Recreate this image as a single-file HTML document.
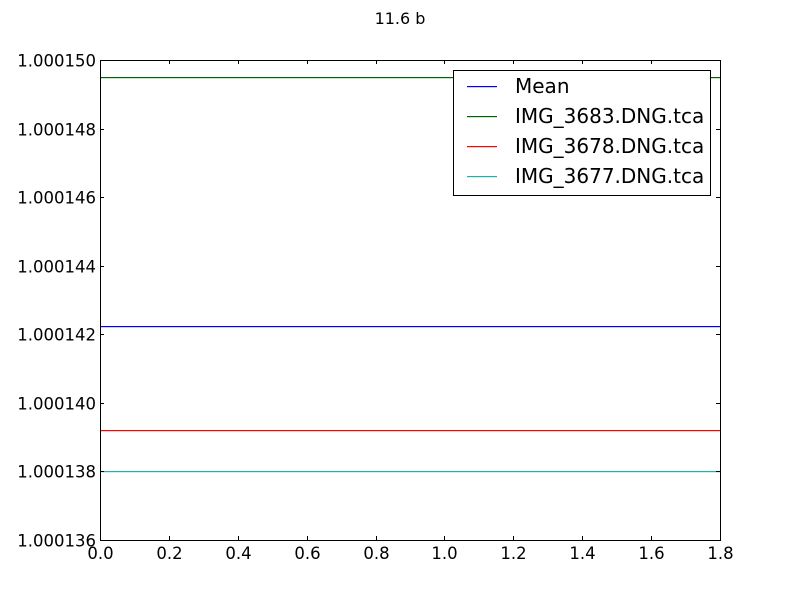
<!DOCTYPE html>
<html><head><meta charset="utf-8"><style>
body{margin:0;background:#fff;}
svg{display:block;font-family:"DejaVu Sans","Liberation Sans",sans-serif;}
</style></head><body>
<svg id="chart" width="800" height="600" xmlns="http://www.w3.org/2000/svg">
<rect width="800" height="600" fill="#fff"/>
<text x="400" y="24" font-size="16" text-anchor="middle">11.6 b</text>
<g id="marks"></g>
<g id="axes" shape-rendering="crispEdges"></g>
<rect x="100.5" y="60.5" width="620" height="480" fill="none" stroke="#000" stroke-width="1" shape-rendering="crispEdges"/>
<g id="legend"></g>
</svg>
<script>
const seriesNames = ["Mean","IMG_3683.DNG.tca","IMG_3678.DNG.tca","IMG_3677.DNG.tca"];
const seriesValues = [1.00014224, 1.0001495, 1.0001392, 1.000138];
const seriesColors = ["#0000ff","#006400","#ff0000","#20b2aa"];
const xTicks = [0,0.2,0.4,0.6,0.8,1.0,1.2,1.4,1.6,1.8];
const yTicks = [1.000136,1.000138,1.00014,1.000142,1.000144,1.000146,1.000148,1.00015];
const X0=100,X1=720,Y0=540,Y1=60;
const xMin=0,xMax=1.8,yMin=1.000136,yMax=1.00015;
const sx=v=>X0+(v-xMin)/(xMax-xMin)*(X1-X0);
const sy=v=>Y0-(v-yMin)/(yMax-yMin)*(Y0-Y1);
const NS="http://www.w3.org/2000/svg";
function mk(tag,attrs,parent){const e=document.createElementNS(NS,tag);for(const k in attrs)e.setAttribute(k,attrs[k]);parent.appendChild(e);return e;}
const marks=document.getElementById('marks'),axes=document.getElementById('axes'),legend=document.getElementById('legend');
seriesValues.forEach((v,i)=>{
  const y=Math.round(sy(v));
  const l=mk('rect',{x:sx(xMin),width:sx(xMax)-sx(xMin),y:y,height:1.2,fill:seriesColors[i]},marks);
  
  
});
xTicks.forEach(t=>{
  const x=Math.round(sx(t))+0.5;
  mk('line',{x1:x,x2:x,y1:Y0,y2:Y0-4,stroke:'#000'},axes);
  mk('line',{x1:x,x2:x,y1:Y1,y2:Y1+4,stroke:'#000'},axes);
  const tx=mk('text',{x:x,y:Y0+19,'font-size':16.5,'text-anchor':'middle'},axes);
  tx.textContent=t.toFixed(1);
  
  
});
yTicks.forEach(t=>{
  const y=Math.round(sy(t))+0.5;
  mk('line',{x1:X0,x2:X0+4,y1:y,y2:y,stroke:'#000'},axes);
  mk('line',{x1:X1,x2:X1-4,y1:y,y2:y,stroke:'#000'},axes);
  const tx=mk('text',{x:X0-4,y:y+6,'font-size':16.5,'text-anchor':'end'},axes);
  tx.textContent=t.toFixed(6);
  
  
});
const box=mk('rect',{x:453.5,y:70.5,width:257,height:125,fill:'#fff',stroke:'#000','shape-rendering':'crispEdges'},legend);


seriesNames.forEach((n,i)=>{
  const y=86+i*30;
  mk('rect',{x:467,width:30,y:y,height:1.2,fill:seriesColors[i]},legend);
  const t=mk('text',{x:515,y:y+7,'font-size':20},legend);
  t.textContent=n;
  
  
});
</script>
</body></html>
